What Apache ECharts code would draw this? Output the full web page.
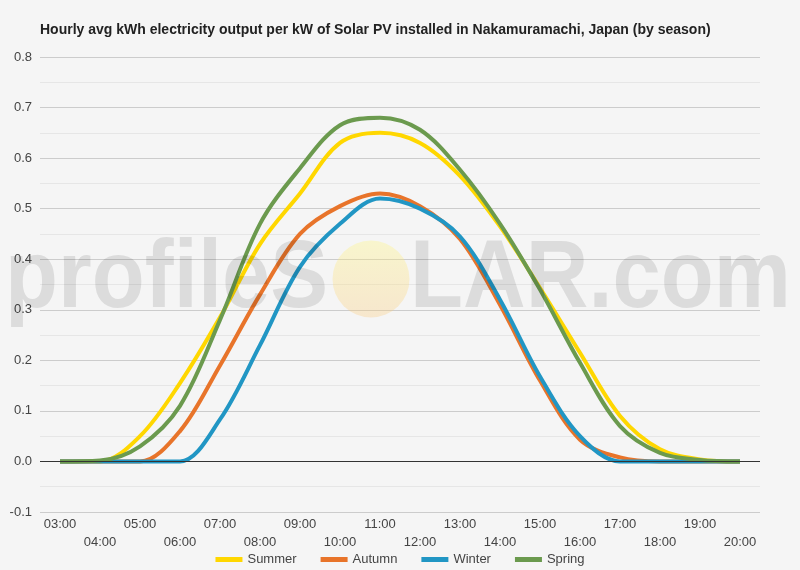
<!DOCTYPE html>
<html>
<head>
<meta charset="utf-8">
<title>Solar PV output by season</title>
<script src="https://cdn.jsdelivr.net/npm/echarts@6/dist/echarts.min.js"></script>
<style>
    html, body { margin: 0; padding: 0; background: #f5f5f5; }
    #SeasonChart { width: 800px; height: 570px; }
</style>
</head>
<body>
<div id="SeasonChart"></div>
<script>
    // 小时
    var hours = ['03:00', '04:00', '05:00', '06:00', '07:00', '08:00', '09:00', '10:00', '11:00',
        '12:00', '13:00', '14:00', '15:00', '16:00', '17:00', '18:00', '19:00', '20:00'];
    var seasonNames = ['Summer', 'Autumn', 'Winter', 'Spring'];
    // kWh per kW
    var summerData = [0, 0, 0.05, 0.155, 0.285, 0.43, 0.53, 0.63, 0.65, 0.63, 0.565, 0.465, 0.343, 0.215, 0.09, 0.024, 0.004, 0];
    var autumnData = [0, 0, 0, 0.06, 0.19, 0.33, 0.45, 0.505, 0.53, 0.505, 0.44, 0.31, 0.16, 0.043, 0.008, 0, 0, 0];
    var winterData = [0, 0, 0, 0, 0.083, 0.23, 0.385, 0.47, 0.52, 0.50, 0.445, 0.32, 0.168, 0.05, 0, 0, 0, 0];
    var springData = [0, 0.002, 0.03, 0.11, 0.28, 0.47, 0.58, 0.665, 0.68, 0.656, 0.577, 0.47, 0.34, 0.195, 0.07, 0.017, 0.003, 0];
    var yTicks = [-0.1, 0, 0.1, 0.2, 0.3, 0.4, 0.5, 0.6, 0.7, 0.8];

    var seasonColors = ['#FFD700', '#E8742A', '#2196C4', '#6B9A4E'];
    var font = 'Arial, "Liberation Sans", sans-serif';

    function lineSeries(name, data, color) {
        return {
            name: name,
            type: 'line',
            smooth: 0.34,
            symbol: 'none',
            data: data,
            lineStyle: { width: 4, color: color },
            itemStyle: { color: color }
        };
    }

    var seasonChart = echarts.init(document.getElementById('SeasonChart'));
    var seriesList = [
        lineSeries(seasonNames[0], summerData, seasonColors[0]),
        lineSeries(seasonNames[1], autumnData, seasonColors[1]),
        lineSeries(seasonNames[2], winterData, seasonColors[2]),
        lineSeries(seasonNames[3], springData, seasonColors[3])
    ];
    // 零线
    seriesList[0].markLine = {
        silent: true,
        symbol: 'none',
        label: { show: false },
        lineStyle: { color: '#333', width: 1, type: 'solid' },
        data: [{ yAxis: 0 }]
    };

    var option = {
        backgroundColor: '#f5f5f5',
        animation: false,
        textStyle: { fontFamily: font },
        title: {
            text: 'Hourly avg kWh electricity output per kW of Solar PV installed in Nakamuramachi, Japan (by season)',
            left: 35,
            top: 18,
            textStyle: { fontSize: 14, fontWeight: 'bold', color: '#222', fontFamily: font }
        },
        legend: {
            data: seasonNames,
            left: 'center',
            top: 548,
            icon: 'rect',
            itemWidth: 27,
            itemHeight: 5,
            itemGap: 24,
            textStyle: { fontSize: 13, color: '#444', fontFamily: font }
        },
        grid: { left: 40, right: 40, top: 57, bottom: 58 },
        xAxis: {
            type: 'category',
            boundaryGap: true,
            data: hours,
            axisLine: { show: false },
            axisTick: { show: false },
            splitLine: { show: false },
            axisLabel: {
                interval: 0,
                margin: 3,
                fontSize: 13,
                color: '#444',
                lineHeight: 18,
                formatter: function (value, index) {
                    return index % 2 ? '\n' + value : value;
                }
            }
        },
        yAxis: {
            type: 'value',
            min: yTicks[0],
            max: yTicks[yTicks.length - 1],
            interval: 0.1,
            axisLine: { show: false },
            axisTick: { show: false },
            axisLabel: {
                margin: 8,
                fontSize: 13,
                color: '#444',
                formatter: function (v) { return v.toFixed(1); }
            },
            splitLine: { lineStyle: { color: '#cccccc', width: 1 } },
            minorTick: { show: false, splitNumber: 2 },
            minorSplitLine: { show: true, lineStyle: { color: '#e6e6e6', width: 1 } }
        },
        graphic: [
            {
                type: 'text',
                x: 5,
                y: 232,
                scaleX: 0.895,
                z: 100,
                silent: true,
                style: {
                    text: 'profileS', align: 'left', verticalAlign: 'top',
                    font: 'bold 97px ' + font, fill: 'rgba(0,0,0,0.1)'
                }
            },
            {
                type: 'circle',
                z: 99,
                silent: true,
                shape: { cx: 371, cy: 279, r: 38.5 },
                style: {
                    fill: new echarts.graphic.LinearGradient(0, 0, 0, 1, [
                        { offset: 0, color: 'rgba(255,245,120,0.32)' },
                        { offset: 1, color: 'rgba(250,200,120,0.32)' }
                    ])
                }
            },
            {
                type: 'text',
                x: 791,
                y: 232,
                scaleX: 0.895,
                z: 100,
                silent: true,
                style: {
                    text: 'LAR.com', align: 'right', verticalAlign: 'top',
                    font: 'bold 97px ' + font, fill: 'rgba(0,0,0,0.1)'
                }
            }
        ],
        series: seriesList
    };
    seasonChart.setOption(option);
</script>
</body>
</html>
